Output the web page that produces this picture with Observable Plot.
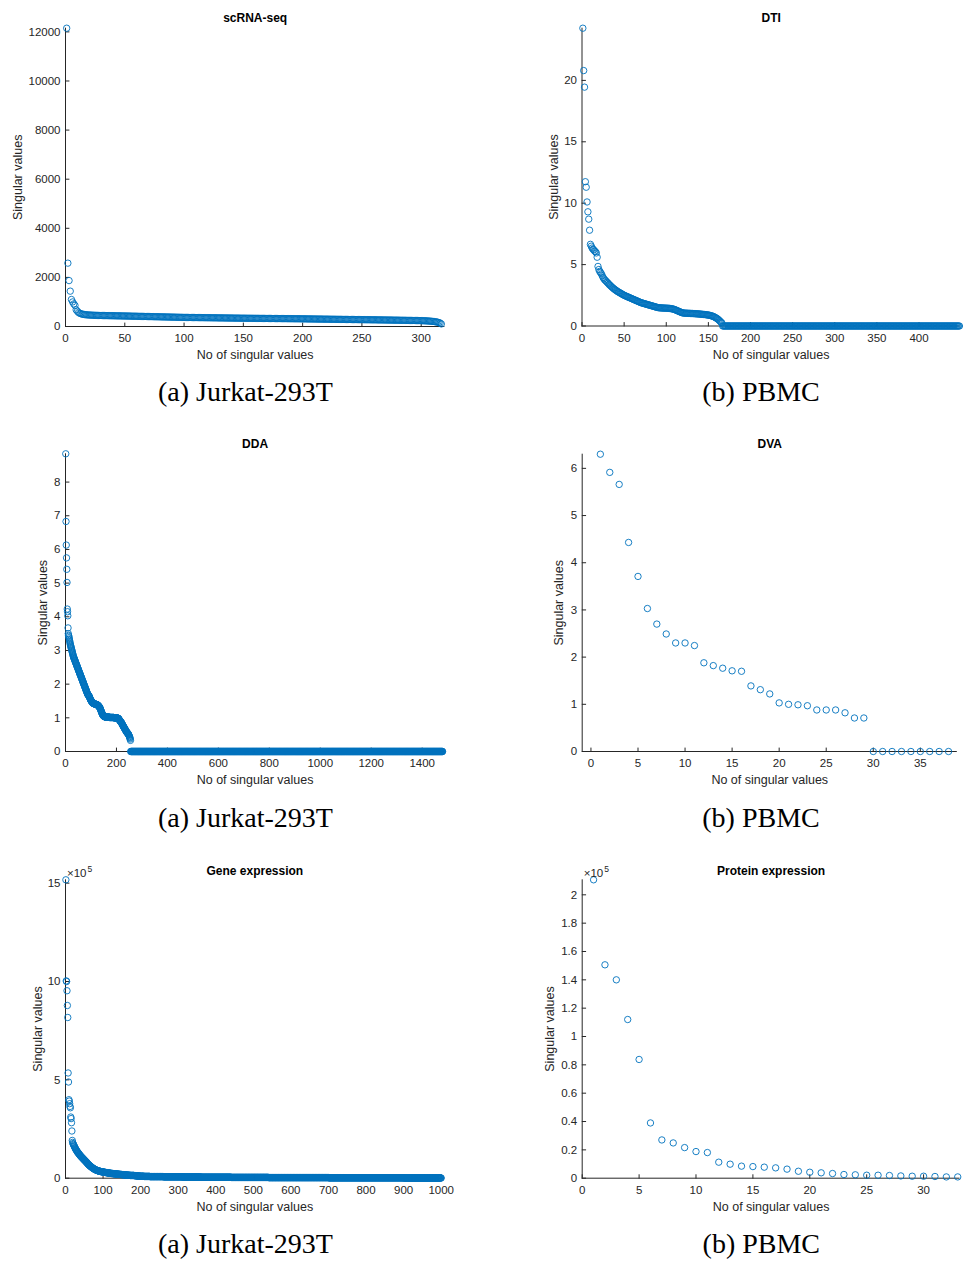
<!DOCTYPE html>
<html><head><meta charset="utf-8">
<script src="https://cdn.jsdelivr.net/npm/d3@7"></script>
<script src="https://cdn.jsdelivr.net/npm/@observablehq/plot@0.6"></script>
<style>
html,body{margin:0;padding:0;background:#fff;}
#page{position:relative;width:966px;height:1269px;overflow:hidden;background:#fff;}
.panel{position:absolute;width:483px;height:417px;}
.panel svg{display:block;}
</style></head><body><div id="page"></div>
<script>
// ---------- text ----------
const titles = ["scRNA-seq", "DTI", "DDA", "DVA", "Gene expression", "Protein expression"];
const captions = ["(a) Jurkat-293T", "(b) PBMC", "(a) Jurkat-293T", "(b) PBMC", "(a) Jurkat-293T", "(b) PBMC"];
const xAxisLabel = "No of singular values";
const yAxisLabel = "Singular values";

// ---------- tick values ----------
const scrnaXTicks = [0, 50, 100, 150, 200, 250, 300];
const scrnaYTicks = [0, 2000, 4000, 6000, 8000, 10000, 12000];
const dtiXTicks = [0, 50, 100, 150, 200, 250, 300, 350, 400];
const dtiYTicks = [0, 5, 10, 15, 20];
const ddaXTicks = [0, 200, 400, 600, 800, 1000, 1200, 1400];
const ddaYTicks = [0, 1, 2, 3, 4, 5, 6, 7, 8];
const dvaXTicks = [0, 5, 10, 15, 20, 25, 30, 35];
const dvaYTicks = [0, 1, 2, 3, 4, 5, 6];
const geneXTicks = [0, 100, 200, 300, 400, 500, 600, 700, 800, 900, 1000];
const geneYTicks = [0, 5, 10, 15];           // in units of 10^5
const proteinXTicks = [0, 5, 10, 15, 20, 25, 30];
const proteinYTicks = [0, 0.2, 0.4, 0.6, 0.8, 1, 1.2, 1.4, 1.6, 1.8, 2]; // units of 10^5

// ---------- singular values (index = position + 1) ----------
const scrnaValues = [
12150,2580,1870,1440,1100,1000,920,860,680,620,570,540,
520,505,495,487,480,475,471,468,
465,462,460,458,456,454,452,450,449,448,447,446,445,444,443,442,441,440,439,438,437,436,435,434,433,432,431,430,429,428,
427,426,425,424,422,421,420,419,418,417,415,414,413,412,411,410,409,407,406,405,404,403,402,401,399,398,397,396,395,394,393,391,390,389,388,387,386,385,383,382,381,380,379,378,377,375,374,373,372,371,
370,369,369,368,367,367,366,365,365,364,363,363,362,361,361,360,359,359,358,357,357,356,355,355,354,353,353,352,351,351,350,349,349,348,347,347,346,345,345,344,343,343,342,341,341,340,339,339,338,338,
337,337,336,336,335,335,334,334,333,333,332,332,331,331,330,330,329,329,328,328,327,327,326,326,325,325,324,324,323,323,322,322,321,321,320,320,319,319,318,318,317,317,316,316,315,315,314,314,313,312,
311,311,310,309,309,308,307,307,306,305,305,304,303,303,302,301,301,300,299,299,298,297,297,296,295,295,294,293,293,292,291,291,290,289,289,288,287,287,286,285,285,284,283,283,282,281,281,280,280,279,
278,278,277,276,276,275,274,274,273,272,272,271,270,269,269,268,267,266,266,265,264,263,263,262,261,260,259,259,258,257,256,255,254,254,253,252,251,250,249,248,247,247,246,245,244,243,242,241,240,239,
237,235,233,230,227,224,220,216,212,207,201,194,185,174,160,140,105
];

const dtiValues = [
24.25,20.8,19.45,11.75,11.3,10.1,9.3,8.7,7.8,6.65,
6.5,6.35,6.25,6.2,6.1,6.05,5.95,5.6,4.85,4.6,
4.45,4.35,4.25,4.1,3.95,3.85,3.75,3.7,3.62,3.55,
3.48,3.4,3.33,3.27,3.2,3.14,3.08,3.02,2.97,2.92,
2.87,2.82,2.78,2.74,2.7,2.66,2.62,2.58,2.54,2.5,
2.47,2.44,2.41,2.38,2.35,2.32,2.29,2.26,2.23,2.2,
2.17,2.14,2.11,2.08,2.05,2.02,1.99,1.96,1.93,1.9,
1.88,1.86,1.84,1.82,1.8,1.78,1.76,1.74,1.72,1.7,
1.68,1.66,1.64,1.62,1.6,1.58,1.56,1.54,1.52,1.5,
1.49,1.48,1.48,1.47,1.47,1.46,1.46,1.46,1.45,1.45,
1.45,1.44,1.44,1.43,1.42,1.41,1.4,1.38,1.36,1.34,
1.31,1.28,1.25,1.22,1.19,1.16,1.13,1.1,1.08,1.06,
1.05,1.05,1.04,1.04,1.04,1.03,1.03,1.03,1.02,1.02,
1.02,1.01,1.01,1.0,1.0,0.99,0.99,0.98,0.98,0.97,
0.96,0.96,0.95,0.94,0.94,0.93,0.92,0.91,0.9,0.89,
0.88,0.86,0.84,0.82,0.8,0.77,0.74,0.7,0.66,0.62,
0.57,0.51,0.45,0.38,0.3,0.25,
0,0,0,0,0,0,0,0,0,0, 0,0,0,0,0,0,0,0,0,0, 0,0,0,0,0,0,0,0,0,0, 0,0,0,0,0,0,0,0,0,0, 0,0,0,0,0,0,0,0,0,0,
0,0,0,0,0,0,0,0,0,0, 0,0,0,0,0,0,0,0,0,0, 0,0,0,0,0,0,0,0,0,0, 0,0,0,0,0,0,0,0,0,0, 0,0,0,0,0,0,0,0,0,0,
0,0,0,0,0,0,0,0,0,0, 0,0,0,0,0,0,0,0,0,0, 0,0,0,0,0,0,0,0,0,0, 0,0,0,0,0,0,0,0,0,0, 0,0,0,0,0,0,0,0,0,0,
0,0,0,0,0,0,0,0,0,0, 0,0,0,0,0,0,0,0,0,0, 0,0,0,0,0,0,0,0,0,0, 0,0,0,0,0,0,0,0,0,0, 0,0,0,0,0,0,0,0,0,0,
0,0,0,0,0,0,0,0,0,0, 0,0,0,0,0,0,0,0,0,0, 0,0,0,0,0,0,0,0,0,0, 0,0,0,0,0,0,0,0,0,0, 0,0,0,0,0,0,0,0,0,0,
0,0,0,0,0,0,0,0,0,0, 0,0,0,0,0,0,0,0,0,0, 0,0,0,0,0,0,0,0,0,0, 0,0
];

const ddaValues = [
8.84,6.83,6.13,5.75,5.41,5.02,4.23,4.15,4.03,3.67,
3.5,3.45,3.42,3.38,3.34,3.3,3.26,3.22,3.18,3.15,
3.12,3.09,3.06,3.03,3.0,2.97,2.94,2.91,2.88,2.85,
2.82,2.8,2.78,2.76,2.74,2.72,2.7,2.68,2.66,2.64,
2.62,2.6,2.58,2.56,2.54,2.52,2.5,2.48,2.46,2.44,
2.42,2.4,2.38,2.36,2.34,2.32,2.3,2.28,2.26,2.24,
2.22,2.2,2.18,2.16,2.14,2.12,2.1,2.08,2.06,2.04,2.02,2.0,
1.98,1.96,1.94,1.92,1.9,1.88,1.86,1.84,1.82,1.8,
1.78,1.76,1.74,1.72,1.7,1.69,1.68,1.67,1.66,1.65,
1.64,1.62,1.6,1.58,1.56,1.54,1.53,1.52,1.5,1.49,
1.48,1.47,1.46,1.45,1.44,1.44,1.43,1.43,
1.42,1.42,1.42,1.41,1.41,1.41,1.41,1.4,1.4,1.4,
1.4,1.39,1.39,1.39,1.38,1.38,1.37,1.37,1.36,1.35,
1.34,1.33,1.32,1.31,1.3,
1.28,1.26,1.24,1.22,1.2,1.18,1.16,1.14,1.12,1.1,
1.09,1.08,1.07,1.06,1.05,1.05,1.04,1.04,1.03,1.03,1.03,1.02,
1.02,1.02,1.02,1.02,1.02,1.02,1.02,1.02,1.02,1.02,
1.02,1.02,1.02,1.02,1.02,1.01,1.01,1.01,1.01,1.01,
1.01,1.01,1.01,1.01,1.01,1.01,1.01,1.01,1.01,1.01,
1.01,1.01,1.0,1.0,1.0,1.0,1.0,1.0,1.0,1.0,
1.0,1.0,1.0,1.0,1.0,0.99,0.99,0.99,0.99,0.98,
0.98,0.97,0.96,
0.94,0.93,0.92,0.91,0.9,0.89,0.88,0.87,0.86,0.85,
0.84,0.82,0.8,0.79,0.78,0.76,0.75,0.74,0.72,0.71,
0.7,0.68,0.67,0.66,0.64,0.63,0.62,0.6,0.59,0.58,
0.57,0.56,0.55,0.54,0.53,0.52,0.51,0.5,0.48,0.46,
0.44,0.42,0.4,0.37,0.33,
0,0,0,0,0,0,0,0,0,0, 0,0,0,0,0,0,0,0,0,0, 0,0,0,0,0,0,0,0,0,0, 0,0,0,0,0,0,0,0,0,0, 0,0,0,0,0,0,0,0,0,0,
0,0,0,0,0,0,0,0,0,0, 0,0,0,0,0,0,0,0,0,0, 0,0,0,0,0,0,0,0,0,0, 0,0,0,0,0,0,0,0,0,0, 0,0,0,0,0,0,0,0,0,0,
0,0,0,0,0,0,0,0,0,0, 0,0,0,0,0,0,0,0,0,0, 0,0,0,0,0,0,0,0,0,0, 0,0,0,0,0,0,0,0,0,0, 0,0,0,0,0,0,0,0,0,0,
0,0,0,0,0,0,0,0,0,0, 0,0,0,0,0,0,0,0,0,0, 0,0,0,0,0,0,0,0,0,0, 0,0,0,0,0,0,0,0,0,0, 0,0,0,0,0,0,0,0,0,0,
0,0,0,0,0,0,0,0,0,0, 0,0,0,0,0,0,0,0,0,0, 0,0,0,0,0,0,0,0,0,0, 0,0,0,0,0,0,0,0,0,0, 0,0,0,0,0,0,0,0,0,0,
0,0,0,0,0,0,0,0,0,0, 0,0,0,0,0,0,0,0,0,0, 0,0,0,0,0,0,0,0,0,0, 0,0,0,0,0,0,0,0,0,0, 0,0,0,0,0,0,0,0,0,0,
0,0,0,0,0,0,0,0,0,0, 0,0,0,0,0,0,0,0,0,0, 0,0,0,0,0,0,0,0,0,0, 0,0,0,0,0,0,0,0,0,0, 0,0,0,0,0,0,0,0,0,0,
0,0,0,0,0,0,0,0,0,0, 0,0,0,0,0,0,0,0,0,0, 0,0,0,0,0,0,0,0,0,0, 0,0,0,0,0,0,0,0,0,0, 0,0,0,0,0,0,0,0,0,0,
0,0,0,0,0,0,0,0,0,0, 0,0,0,0,0,0,0,0,0,0, 0,0,0,0,0,0,0,0,0,0, 0,0,0,0,0,0,0,0,0,0, 0,0,0,0,0,0,0,0,0,0,
0,0,0,0,0,0,0,0,0,0, 0,0,0,0,0,0,0,0,0,0, 0,0,0,0,0,0,0,0,0,0, 0,0,0,0,0,0,0,0,0,0, 0,0,0,0,0,0,0,0,0,0,
0,0,0,0,0,0,0,0,0,0, 0,0,0,0,0,0,0,0,0,0, 0,0,0,0,0,0,0,0,0,0, 0,0,0,0,0,0,0,0,0,0, 0,0,0,0,0,0,0,0,0,0,
0,0,0,0,0,0,0,0,0,0, 0,0,0,0,0,0,0,0,0,0, 0,0,0,0,0,0,0,0,0,0, 0,0,0,0,0,0,0,0,0,0, 0,0,0,0,0,0,0,0,0,0,
0,0,0,0,0,0,0,0,0,0, 0,0,0,0,0,0,0,0,0,0, 0,0,0,0,0,0,0,0,0,0, 0,0,0,0,0,0,0,0,0,0, 0,0,0,0,0,0,0,0,0,0,
0,0,0,0,0,0,0,0,0,0, 0,0,0,0,0,0,0,0,0,0, 0,0,0,0,0,0,0,0,0,0, 0,0,0,0,0,0,0,0,0,0, 0,0,0,0,0,0,0,0,0,0,
0,0,0,0,0,0,0,0,0,0, 0,0,0,0,0,0,0,0,0,0, 0,0,0,0,0,0,0,0,0,0, 0,0,0,0,0,0,0,0,0,0, 0,0,0,0,0,0,0,0,0,0,
0,0,0,0,0,0,0,0,0,0, 0,0,0,0,0,0,0,0,0,0, 0,0,0,0,0,0,0,0,0,0, 0,0,0,0,0,0,0,0,0,0, 0,0,0,0,0,0,0,0,0,0,
0,0,0,0,0,0,0,0,0,0, 0,0,0,0,0,0,0,0,0,0, 0,0,0,0,0,0,0,0,0,0, 0,0,0,0,0,0,0,0,0,0, 0,0,0,0,0,0,0,0,0,0,
0,0,0,0,0,0,0,0,0,0, 0,0,0,0,0,0,0,0,0,0, 0,0,0,0,0,0,0,0,0,0, 0,0,0,0,0,0,0,0,0,0, 0,0,0,0,0,0,0,0,0,0,
0,0,0,0,0,0,0,0,0,0, 0,0,0,0,0,0,0,0,0,0, 0,0,0,0,0,0,0,0,0,0, 0,0,0,0,0,0,0,0,0,0, 0,0,0,0,0,0,0,0,0,0,
0,0,0,0,0,0,0,0,0,0, 0,0,0,0,0,0,0,0,0,0, 0,0,0,0,0,0,0,0,0,0, 0,0,0,0,0,0,0,0,0,0, 0,0,0,0,0,0,0,0,0,0,
0,0,0,0,0,0,0,0,0,0, 0,0,0,0,0,0,0,0,0,0, 0,0,0,0,0,0,0,0,0,0, 0,0,0,0,0,0,0,0,0,0, 0,0,0,0,0,0,0,0,0,0,
0,0,0,0,0,0,0,0,0,0, 0,0,0,0,0,0,0,0,0,0, 0,0,0,0,0,0,0,0,0,0, 0,0,0,0,0,0,0,0,0,0, 0,0,0,0,0,0,0,0,0,0,
0,0,0,0,0,0,0,0,0,0, 0,0,0,0,0,0,0,0,0,0, 0,0,0,0,0,0,0,0,0,0, 0,0,0,0,0,0,0,0,0,0, 0,0,0,0,0,0,0,0,0,0,
0,0,0,0,0,0,0,0,0,0, 0,0,0,0,0,0,0,0,0,0, 0,0,0,0,0,0,0,0,0,0, 0,0,0,0,0,0,0,0,0,0, 0,0,0,0,0,0,0,0,0,0,
0,0,0,0,0,0,0,0,0,0, 0,0,0,0,0,0,0,0,0,0, 0,0,0,0,0
];

const dvaValues = [
6.30,5.915,5.66,4.43,3.71,3.03,2.70,2.49,2.30,2.30,
2.245,1.88,1.82,1.765,1.71,1.70,1.39,1.31,1.22,1.03,
1.00,0.99,0.97,0.88,0.88,0.88,0.82,0.71,0.71,
0,0,0,0,0,0,0,0,0
];

// gene expression singular values, in thousands (1000s)
const geneThousands = [
1517,1003,1000,953,878,817,535,489,399,392,
379,365,358,311,303,282,240,192,182,176,
172,168,164,160,156,152,148,145,142,139,
136,133,130,128,126,123,120,118,116,113,
111,109,107,105,103,101,99,97,95,93,
91,89,87,85,83,81,79,76,74,72,
70,68,66,65,63,61,60,58,57,55,
54,52,51,50,48,47,46,45,44,43,
42,41,40,39,39,38,37,37,36,36,
35,35,34,34,33,33,33,32,32,31,
31,31,30,30,30,29,29,29,28,28,
28,27,27,27,26,26,26,25,25,25,
25,24,24,24,24,23,23,23,23,22,
22,22,22,22,21,21,21,21,21,20,
20,20,20,20,19,19,19,19,19,18,
18,18,18,18,17,17,17,17,17,16,
16,16,16,16,16,15,15,15,15,15,
15,14,14,14,14,14,14,14,14,14,
14,14,13,13,13,13,12,12,12,12,12,11,11,11,11,11,11,10,10,10,
10,10,10,10,10,10,10,10,9,9,9,9,9,9,9,9,9,9,9,9,
9,9,9,9,8,8,8,8,8,8,8,8,8,8,8,8,8,8,8,8,
8,8,8,8,8,8,8,8,8,8,8,8,8,8,8,8,8,8,8,8,
7,7,7,7,7,7,7,7,7,7,7,7,7,7,7,7,7,7,7,7,
7,7,7,7,7,7,7,7,7,7,7,7,7,7,7,7,7,7,7,7,
7,7,7,7,7,7,7,7,7,7,6,6,6,6,6,6,6,6,6,6,
6,6,6,6,6,6,6,6,6,6,6,6,6,6,6,6,6,6,6,6,
6,6,6,6,6,6,6,6,6,6,6,6,6,6,6,6,6,6,6,6,
5,5,5,5,5,5,5,5,5,5,5,5,5,5,5,5,5,5,5,5,
5,5,5,5,5,5,5,5,5,5,5,5,5,5,5,5,5,5,5,5,
5,5,5,5,5,5,5,5,5,5,5,5,5,5,5,5,5,5,5,5,
5,5,5,5,5,5,5,5,5,5,5,5,5,5,5,5,5,5,5,5,
4,4,4,4,4,4,4,4,4,4,4,4,4,4,4,4,4,4,4,4,
4,4,4,4,4,4,4,4,4,4,4,4,4,4,4,4,4,4,4,4,
4,4,4,4,4,4,4,4,4,4,4,4,4,4,4,4,4,4,4,4,
4,4,4,4,4,4,4,4,4,4,4,4,4,4,4,4,4,4,4,4,
4,4,4,4,4,4,4,4,4,4,4,4,4,4,4,4,4,4,4,4,
3,3,3,3,3,3,3,3,3,3,3,3,3,3,3,3,3,3,3,3,
3,3,3,3,3,3,3,3,3,3,3,3,3,3,3,3,3,3,3,3,
3,3,3,3,3,3,3,3,3,3,3,3,3,3,3,3,3,3,3,3,
3,3,3,3,3,3,3,3,3,3,3,3,3,3,3,3,3,3,3,3,
3,3,3,3,3,3,3,3,3,3,3,3,3,3,3,3,3,3,3,3,
3,3,3,3,3,3,3,3,3,3,3,3,3,3,3,3,3,3,3,3,
3,3,3,3,3,3,3,3,3,3,3,3,3,3,3,3,3,3,3,3,
3,3,3,3,3,3,3,3,3,3,3,3,3,3,3,3,3,3,3,3,
2,2,2,2,2,2,2,2,2,2,2,2,2,2,2,2,2,2,2,2,
2,2,2,2,2,2,2,2,2,2,2,2,2,2,2,2,2,2,2,2,
2,2,2,2,2,2,2,2,2,2,2,2,2,2,2,2,2,2,2,2,
2,2,2,2,2,2,2,2,2,2,2,2,2,2,2,2,2,2,2,2,
2,2,2,2,2,2,2,2,2,2,2,2,2,2,2,2,2,2,2,2,
2,2,2,2,2,2,2,2,2,2,2,2,2,2,2,2,2,2,2,2,
2,2,2,2,2,2,2,2,2,2,2,2,2,2,2,2,2,2,2,2,
2,2,2,2,2,2,2,2,2,2,2,2,2,2,2,2,2,2,2,2,
2,2,2,2,2,2,2,2,2,2,2,2,2,2,2,2,2,2,2,2,
2,2,2,2,2,2,2,2,2,2,2,2,2,2,2,2,2,2,2,2,
1,1,1,1,1,1,1,1,1,1,1,1,1,1,1,1,1,1,1,1,
1,1,1,1,1,1,1,1,1,1,1,1,1,1,1,1,1,1,1,1,
1,1,1,1,1,1,1,1,1,1,1,1,1,1,1,1,1,1,1,1,
1,1,1,1,1,1,1,1,1,1,1,1,1,1,1,1,1,1,1,1,
1,1,1,1,1,1,1,1,1,1,1,1,1,1,1,1,1,1,1,1
];

// protein expression singular values, in units of 10^5
const proteinE5 = [
2.106,1.506,1.40,1.12,0.838,0.39,0.27,0.249,0.216,0.188,
0.181,0.113,0.099,0.085,0.082,0.078,0.073,0.064,0.049,0.042,
0.038,0.033,0.026,0.024,0.021,0.021,0.019,0.016,0.014,0.014,
0.012,0.009,0.009
];

// ---------- layout / styling (not data) ----------
const MARKER = "#0072BD";
const INK = "#262626";
const PW = 483, PH = 417;

const panels = [
  {values: scrnaValues, k: 1, left: 0, top: 0, mt: 27.7, mr: 38.6, mb: 91, ml: 65,
   xDomain: [0, 320], yDomain: [0, 12150], xTicks: scrnaXTicks, yTicks: scrnaYTicks,
   titleDy: -6.4, yLabelDx: -48, capX: 245, capDy: 74.7},
  {values: dtiValues, k: 1, left: 483, top: 0, mt: 27.7, mr: 6.2, mb: 91.5, ml: 98.5,
   xDomain: [0, 449], yDomain: [0, 24.25], xTicks: dtiXTicks, yTicks: dtiYTicks,
   titleDy: -6.4, yLabelDx: -28.5, capX: 760.5, capDy: 75.2},
  {values: ddaValues, k: 1, left: 0, top: 426, mt: 27.3, mr: 38.9, mb: 92, ml: 65,
   xDomain: [0, 1488], yDomain: [0, 8.84], xTicks: ddaXTicks, yTicks: ddaYTicks,
   titleDy: -6, yLabelDx: -22.5, capX: 245, capDy: 75.7},
  {values: dvaValues, k: 1, left: 483, top: 426, mt: 27.7, mr: 9.2, mb: 92, ml: 98.7,
   xDomain: [-0.93, 38.93], yDomain: [0, 6.30], xTicks: dvaXTicks, yTicks: dvaYTicks,
   titleDy: -6.4, yLabelDx: -22.9, capX: 760.5, capDy: 75.7},
  {values: geneThousands, k: 0.01, left: 0, top: 852, mt: 27.3, mr: 39.3, mb: 91.3, ml: 65,
   xDomain: [0, 1008], yDomain: [0, 15.17], xTicks: geneXTicks, yTicks: geneYTicks,
   titleDy: -5.3, yLabelDx: -28, capX: 245, capDy: 74.6, exponent: "5"},
  {values: proteinE5, k: 1, left: 483, top: 852, mt: 27.3, mr: 6.5, mb: 91.3, ml: 98.7,
   xDomain: [0, 33.2], yDomain: [0, 2.106], xTicks: proteinXTicks, yTicks: proteinYTicks,
   titleDy: -5.3, yLabelDx: -32.4, capX: 760.8, capDy: 74.6, exponent: "5"}
];

const tickShape = {draw(context, l) { context.moveTo(0, 0); context.lineTo(0, -l); }};
const page = document.getElementById("page");

panels.forEach((p, idx) => {
  const data = p.values.map((v, i) => ({n: i + 1, v: v * p.k}));
  const plotCenterX = p.left + p.ml + (PW - p.ml - p.mr) / 2;
  const marks = [
    Plot.ruleY([p.yDomain[0]], {stroke: INK, strokeWidth: 1}),
    Plot.ruleX([p.xDomain[0]], {stroke: INK, strokeWidth: 1}),
    Plot.vector(p.xTicks, {x: d => d, y: p.yDomain[0], length: 3.5, rotate: 0, anchor: "start", shape: tickShape, stroke: INK, strokeWidth: 1}),
    Plot.vector(p.yTicks, {x: p.xDomain[0], y: d => d, length: 3.5, rotate: 90, anchor: "start", shape: tickShape, stroke: INK, strokeWidth: 1}),
    Plot.axisX({ticks: p.xTicks, tickSize: 0, tickPadding: 7.6, tickFormat: d => String(d), label: null, fill: INK}),
    Plot.axisY({ticks: p.yTicks, tickSize: 0, tickPadding: 5, tickFormat: d => String(d), label: null, fill: INK}),
    Plot.dot(data, {x: "n", y: "v", r: 3.2, stroke: MARKER, strokeWidth: 0.9, fill: "none"}),
    Plot.text([titles[idx]], {text: d => d, frameAnchor: "top", textAnchor: "middle", lineAnchor: "bottom", dy: p.titleDy, fontWeight: "bold", fontSize: 12, fill: "#000"}),
    Plot.text([xAxisLabel], {text: d => d, frameAnchor: "bottom", textAnchor: "middle", lineAnchor: "bottom", dy: 32.5, fontSize: 12.5, fill: INK}),
    Plot.text([yAxisLabel], {text: d => d, frameAnchor: "left", textAnchor: "middle", lineAnchor: "middle", rotate: -90, dx: p.yLabelDx, fontSize: 12.5, fill: INK}),
    Plot.text([captions[idx]], {text: d => d, frameAnchor: "bottom", textAnchor: "middle", lineAnchor: "bottom", dy: p.capDy, dx: p.capX - plotCenterX, fontSize: 28, fontFamily: "'Liberation Serif', 'Times New Roman', serif", fill: "#000"})
  ];
  if (p.exponent) {
    marks.push(
      Plot.text(["×10"], {text: d => d, frameAnchor: "top-left", textAnchor: "start", lineAnchor: "bottom", dx: 1.5, dy: -3, fontSize: 11.5, fill: INK}),
      Plot.text([p.exponent], {text: d => d, frameAnchor: "top-left", textAnchor: "start", lineAnchor: "bottom", dx: 22, dy: -7.6, fontSize: 8.5, fill: INK})
    );
  }
  const svg = Plot.plot({
    width: PW, height: PH,
    marginTop: p.mt, marginRight: p.mr, marginBottom: p.mb, marginLeft: p.ml,
    x: {domain: p.xDomain},
    y: {domain: p.yDomain},
    style: {fontFamily: "'Liberation Sans', Arial, Helvetica, sans-serif", fontSize: "11.5px", color: INK, background: "transparent", overflow: "visible"},
    marks
  });
  const div = document.createElement("div");
  div.className = "panel";
  div.style.left = p.left + "px";
  div.style.top = p.top + "px";
  div.append(svg);
  page.append(div);
});
</script>
</body></html>
